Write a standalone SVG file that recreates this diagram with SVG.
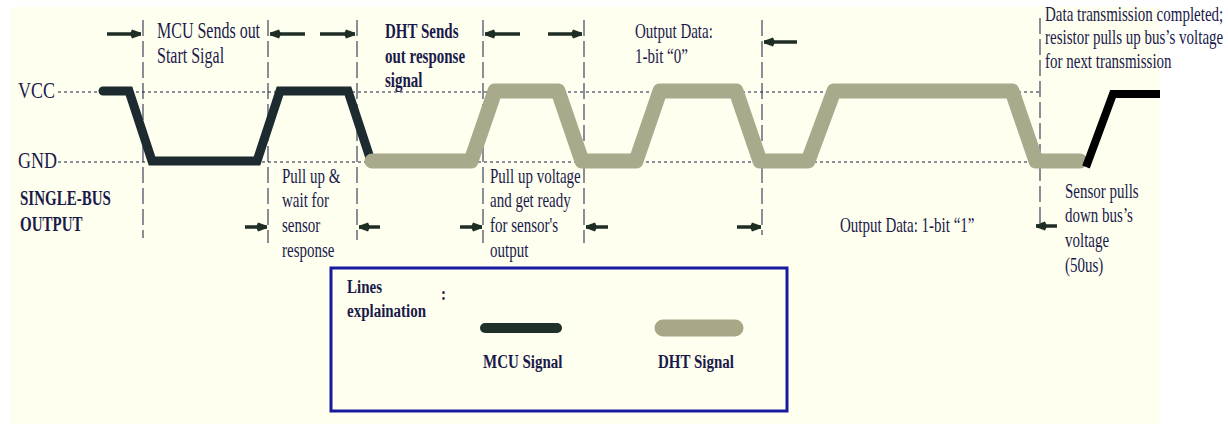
<svg xmlns="http://www.w3.org/2000/svg" width="1228" height="424" viewBox="0 0 1228 424">
<style>
.t{font-family:"Liberation Serif","Times New Roman",serif;font-size:15px;fill:#1a1a4a}
.b{font-weight:bold}
.dot{stroke:#1c1c48;stroke-width:1.1;stroke-dasharray:3 3;fill:none}
.div{stroke:#303050;stroke-width:1.1;stroke-dasharray:16 5;fill:none}
.arr{stroke:#1e2e24;stroke-width:3.5;fill:none;marker-end:url(#ah)}
</style>
<defs>
<marker id="ah" markerUnits="userSpaceOnUse" markerWidth="14" markerHeight="12" viewBox="0 -6 12 12" refX="11" refY="0" orient="auto">
<path d="M0,0 L2,-4.5 L11,-1.2 L11,1.2 L2,4.5 Z" fill="#1e2e24"/>
</marker>
</defs>
<rect x="10" y="7" width="1150" height="417" fill="#fffff0"/>

<g id="levels">
<line class="dot" x1="58" y1="92" x2="1040" y2="92"/>
<line class="dot" x1="58" y1="162" x2="1063" y2="162"/>
<text class="t" style="font-size:18px" transform="translate(18,98) scale(1,1.25)">VCC</text>
<text class="t" style="font-size:18px" transform="translate(18,168) scale(1,1.25)">GND</text>
<text class="t b" transform="translate(20,205) scale(1,1.4)"><tspan x="0" y="0">SINGLE-BUS</tspan><tspan x="0" y="18.6">OUTPUT</tspan></text>
</g>

<g id="dividers">
<line class="div" x1="143" y1="20" x2="143" y2="238"/>
<line class="div" x1="268" y1="20" x2="268" y2="243"/>
<line class="div" x1="357" y1="20" x2="357" y2="240"/>
<line class="div" x1="483" y1="20" x2="483" y2="243"/>
<line class="div" x1="584" y1="20" x2="584" y2="243"/>
<line class="div" x1="762" y1="20" x2="762" y2="235"/>
<line class="div" x1="1040" y1="18" x2="1040" y2="228"/>
</g>

<g id="mcu-signal">
<path d="M103,91 L129,91 L152,161 L257,161 L280,91 L348,91 L371,161" fill="none" stroke="#1d2a30" stroke-width="9" stroke-linejoin="miter" stroke-linecap="round"/>
</g>

<g id="dht-signal">
<path d="M372,161 L471,161 L495,91 L558,91 L582,161 L636,161 L660,91 L736,91 L760,161 L808,161 L834,91 L1012,91 L1036,161 L1080,161" fill="none" stroke="#a9a98b" stroke-width="15" stroke-linejoin="round" stroke-linecap="round"/>
</g>

<g id="bus-release">
<path d="M1086,167 L1113,94 L1160,94" fill="none" stroke="#000" stroke-width="8"/>
</g>

<g id="connectors">
<line class="arr" x1="107" y1="34" x2="141" y2="34"/>
<line class="arr" x1="305" y1="34" x2="270" y2="34"/>
<line class="arr" x1="320" y1="34" x2="355" y2="34"/>
<line class="arr" x1="520" y1="34" x2="485" y2="34"/>
<line class="arr" x1="548" y1="34" x2="582" y2="34"/>
<line class="arr" x1="797" y1="42" x2="764" y2="42"/>
<line class="arr" x1="245" y1="227" x2="267" y2="227"/>
<line class="arr" x1="380" y1="227" x2="359" y2="227"/>
<line class="arr" x1="460" y1="227" x2="482" y2="227"/>
<line class="arr" x1="608" y1="227" x2="586" y2="227"/>
<line class="arr" x1="737" y1="227" x2="761" y2="227"/>
<line class="arr" x1="1057" y1="226" x2="1036" y2="226"/>
</g>

<g id="label-start">
<text class="t" style="font-size:16px" transform="translate(157,38) scale(1,1.4)"><tspan x="0" y="0">MCU Sends out</tspan><tspan x="0" y="17.8">Start Sigal</tspan></text>
</g>
<g id="label-response">
<text class="t b" transform="translate(385,38) scale(1,1.45)"><tspan x="0" y="0">DHT Sends</tspan><tspan x="0" y="17.2">out response</tspan><tspan x="0" y="33.8">signal</tspan></text>
</g>
<g id="label-bit0">
<text class="t" transform="translate(635,38) scale(1,1.4)"><tspan x="0" y="0">Output Data:</tspan><tspan x="0" y="17.8">1-bit “0”</tspan></text>
</g>
<g id="label-complete">
<text class="t" transform="translate(1045,21) scale(1,1.45)"><tspan x="0" y="0">Data transmission completed;</tspan><tspan x="0" y="16.2">resistor pulls up bus’s voltage</tspan><tspan x="0" y="32.4">for next transmission</tspan></text>
</g>
<g id="label-wait">
<text class="t" transform="translate(282,183) scale(1,1.4)"><tspan x="0" y="0">Pull up &amp;</tspan><tspan x="0" y="17.3">wait for</tspan><tspan x="0" y="35">sensor</tspan><tspan x="0" y="52.8">response</tspan></text>
</g>
<g id="label-ready">
<text class="t" transform="translate(490,183) scale(1,1.4)"><tspan x="0" y="0">Pull up voltage</tspan><tspan x="0" y="17.3">and get ready</tspan><tspan x="0" y="35">for sensor's</tspan><tspan x="0" y="52.8">output</tspan></text>
</g>
<g id="label-bit1">
<text class="t" transform="translate(840,232) scale(1,1.4)">Output Data: 1-bit “1”</text>
</g>
<g id="label-pulldown">
<text class="t" transform="translate(1065,198) scale(1,1.4)"><tspan x="0" y="0">Sensor pulls</tspan><tspan x="0" y="17.3">down bus’s</tspan><tspan x="0" y="35">voltage</tspan><tspan x="0" y="52.8">(50us)</tspan></text>
</g>

<g id="legend">
<rect x="331" y="268" width="456" height="143" fill="#fffff0" stroke="#1a1aa0" stroke-width="3"/>
<text class="t b" transform="translate(347,293) scale(1,1.3)"><tspan x="0" y="0">Lines</tspan><tspan x="0" y="18.5">explaination</tspan></text>
<text class="t b" transform="translate(441,300) scale(1,1.3)">:</text>
<line x1="485" y1="328" x2="557" y2="328" stroke="#1f2f2a" stroke-width="10" stroke-linecap="round"/>
<line x1="663" y1="328" x2="735" y2="328" stroke="#a8a887" stroke-width="17" stroke-linecap="round"/>
<text class="t b" transform="translate(483,368) scale(1,1.3)">MCU Signal</text>
<text class="t b" transform="translate(658,368) scale(1,1.3)">DHT Signal</text>
</g>
</svg>
